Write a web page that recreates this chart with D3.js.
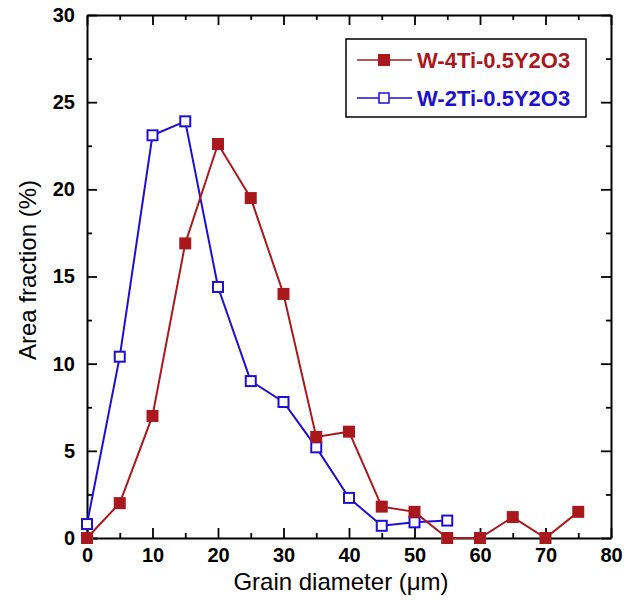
<!DOCTYPE html>
<html>
<head>
<meta charset="utf-8">
<script src="https://cdn.jsdelivr.net/npm/d3@7"></script>
<style>
  body { margin: 0; background: #fff; }
  text { font-family: "Liberation Sans", Arial, sans-serif; }
</style>
</head>
<body>
<div id="chart"></div>
<script>
var diameters = [0, 5, 10, 15, 20, 25, 30, 35, 40, 45, 50, 55, 60, 65, 70, 75];
var w4Ti = [0, 2.0, 7.0, 16.9, 22.6, 19.5, 14.0, 5.8, 6.1, 1.8, 1.5, 0, 0, 1.2, 0, 1.5];
var w2Ti = [0.8, 10.4, 23.1, 23.9, 14.4, 9.0, 7.8, 5.2, 2.3, 0.7, 0.9, 1.0];
var seriesNames = ["W-4Ti-0.5Y2O3", "W-2Ti-0.5Y2O3"];
var xTicks = [0, 10, 20, 30, 40, 50, 60, 70, 80];
var yTicks = [0, 5, 10, 15, 20, 25, 30];

function init() {
  var width = 635, height = 601;
  var margin = {left: 87, top: 15, right: 24, bottom: 63};
  var red = "#a8181c", blue = "#1e0fd0";

  var xScale = d3.scaleLinear().domain([0, 80]).range([margin.left, width - margin.right]);
  var yScale = d3.scaleLinear().domain([0, 30]).range([height - margin.bottom, margin.top]);

  var svg = d3.select("#chart").append("svg")
    .attr("width", width)
    .attr("height", height);

  // frame with inward ticks on all four sides
  function styleAxis(g) {
    g.select(".domain").attr("stroke", "#000").attr("stroke-width", 2);
    g.selectAll(".tick line").attr("stroke", "#000").attr("stroke-width", 1.8);
  }
  function styleLabels(g) {
    g.selectAll("text").attr("font-size", 20).attr("font-weight", "bold").attr("fill", "#000")
      .attr("font-family", "Liberation Sans, Arial, sans-serif");
  }
  var minorX = d3.range(5, 80, 10), minorY = d3.range(2.5, 30, 5);

  var bottomY = yScale(0), topY = yScale(30), leftX = xScale(0), rightX = xScale(80);

  svg.append("g").attr("transform", "translate(0," + bottomY + ")")
    .call(d3.axisBottom(xScale).tickValues(xTicks).tickSizeInner(-10).tickSizeOuter(0).tickPadding(10))
    .call(styleAxis).call(styleLabels);
  svg.append("g").attr("transform", "translate(0," + bottomY + ")")
    .call(d3.axisBottom(xScale).tickValues(minorX).tickSize(-5).tickFormat(""))
    .call(styleAxis).call(function(g) { g.select(".domain").remove(); });

  svg.append("g").attr("transform", "translate(0," + topY + ")")
    .call(d3.axisTop(xScale).tickValues(xTicks).tickSizeInner(-10).tickSizeOuter(0).tickFormat(""))
    .call(styleAxis);
  svg.append("g").attr("transform", "translate(0," + topY + ")")
    .call(d3.axisTop(xScale).tickValues(minorX).tickSize(-5).tickFormat(""))
    .call(styleAxis).call(function(g) { g.select(".domain").remove(); });

  svg.append("g").attr("transform", "translate(" + leftX + ",0)")
    .call(d3.axisLeft(yScale).tickValues(yTicks).tickSizeInner(-10).tickSizeOuter(0).tickPadding(12))
    .call(styleAxis).call(styleLabels);
  svg.append("g").attr("transform", "translate(" + leftX + ",0)")
    .call(d3.axisLeft(yScale).tickValues(minorY).tickSize(-5).tickFormat(""))
    .call(styleAxis).call(function(g) { g.select(".domain").remove(); });

  svg.append("g").attr("transform", "translate(" + rightX + ",0)")
    .call(d3.axisRight(yScale).tickValues(yTicks).tickSizeInner(-10).tickSizeOuter(0).tickFormat(""))
    .call(styleAxis);
  svg.append("g").attr("transform", "translate(" + rightX + ",0)")
    .call(d3.axisRight(yScale).tickValues(minorY).tickSize(-5).tickFormat(""))
    .call(styleAxis).call(function(g) { g.select(".domain").remove(); });

  // axis titles
  svg.append("text")
    .attr("x", 341)
    .attr("y", 590)
    .attr("text-anchor", "middle")
    .attr("font-size", 24)
    .text("Grain diameter (\u03bcm)");

  svg.append("text")
    .attr("transform", "translate(36,270) rotate(-90)")
    .attr("text-anchor", "middle")
    .attr("font-size", 24)
    .text("Area fraction (%)");

  var line = d3.line()
    .x(function(d) { return xScale(d[0]); })
    .y(function(d) { return yScale(d[1]); });

  var redData = w4Ti.map(function(v, i) { return [diameters[i], v]; });
  var blueData = w2Ti.map(function(v, i) { return [diameters[i], v]; });

  svg.append("path").datum(blueData)
    .attr("d", line).attr("fill", "none").attr("stroke", blue).attr("stroke-width", 2);
  svg.append("path").datum(redData)
    .attr("d", line).attr("fill", "none").attr("stroke", red).attr("stroke-width", 2);

  svg.selectAll("rect.blue")
    .data(blueData)
    .enter()
    .append("rect")
    .attr("class", "blue")
    .attr("x", function(d) { return xScale(d[0]) - 5; })
    .attr("y", function(d) { return yScale(d[1]) - 5; })
    .attr("width", 10).attr("height", 10)
    .attr("fill", "#fff").attr("stroke", blue).attr("stroke-width", 2);

  svg.selectAll("rect.red")
    .data(redData)
    .enter()
    .append("rect")
    .attr("class", "red")
    .attr("x", function(d) { return xScale(d[0]) - 6; })
    .attr("y", function(d) { return yScale(d[1]) - 6; })
    .attr("width", 12).attr("height", 12)
    .attr("fill", red);

  // legend
  var lg = svg.append("g");
  lg.append("rect")
    .attr("x", 346).attr("y", 39).attr("width", 240).attr("height", 78)
    .attr("fill", "#fff").attr("stroke", "#000").attr("stroke-width", 1.5);

  var colors = [red, blue];
  seriesNames.forEach(function(name, i) {
    var cy = 60 + i * 38;
    lg.append("line").attr("x1", 357).attr("x2", 412).attr("y1", cy).attr("y2", cy)
      .attr("stroke", colors[i]).attr("stroke-width", 1.5);
    if (i == 0) {
      lg.append("rect").attr("x", 378).attr("y", cy - 6).attr("width", 12).attr("height", 12)
        .attr("fill", red);
    } else {
      lg.append("rect").attr("x", 379).attr("y", cy - 5).attr("width", 10).attr("height", 10)
        .attr("fill", "#fff").attr("stroke", blue).attr("stroke-width", 1.5);
    }
    lg.append("text").attr("x", 417).attr("y", cy + 8)
      .attr("font-size", 22).attr("font-weight", "bold")
      .attr("fill", colors[i])
      .text(name);
  });
}
window.onload = init;
</script>
</body>
</html>
